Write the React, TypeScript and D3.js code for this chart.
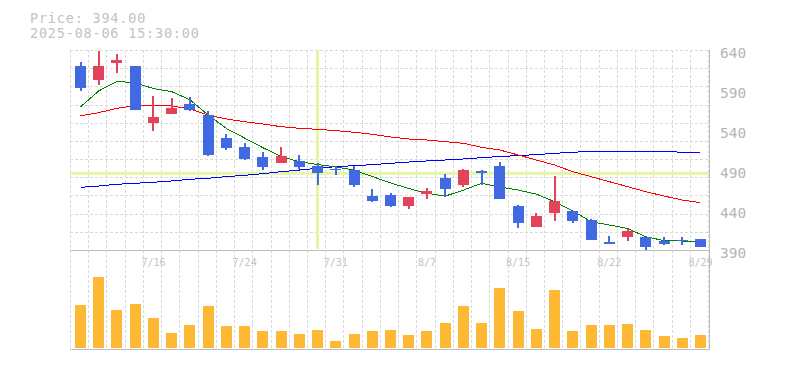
import React from "react";
import * as d3 from "d3";

const dates = ["7/10","7/11","7/14","7/15","7/16","7/17","7/18","7/22","7/23","7/24","7/25","7/28","7/29","7/30","7/31","8/1","8/4","8/5","8/6","8/7","8/8","8/12","8/13","8/14","8/15","8/18","8/19","8/20","8/21","8/22","8/25","8/26","8/27","8/28","8/29"];
const opens  = [624,607,628,624,553,564,577,563,534,523,510,503,505,499,496,494,462,463,449,464,484,476,493,499,449,423,441,443,432,404,410,410,405,407,408];
const highs  = [629,643,639,624,587,584,586,568,539,528,517,523,513,503,499,499,470,466,460,472,489,495,494,504,450,440,487,443,433,412,421,410,411,410,408];
const lows   = [593,600,616,569,543,564,568,512,519,507,494,503,496,475,488,473,454,448,445,458,461,473,476,458,422,423,431,428,407,402,406,393,400,400,398];
const closes = [597,624,632,569,560,572,569,513,522,508,498,512,498,490,494,475,455,449,460,468,470,494,491,458,428,437,455,431,407,402,418,398,402,405,398];
const volumes = [86000,142600,76000,88000,60000,30000,46000,84000,44000,44000,34000,34000,28000,36000,14000,28000,34000,36000,26000,34000,50000,84000,50000,120000,74000,38000,116000,34000,46000,46000,48000,36000,24000,20000,26000];
const ma5  = [573,593,605,603,596,592,582,563,546,534,522,511,504.5,501,498,494,486,478,471,465,461.5,469,477.5,473,469,464,454.5,443,429.5,425.4,421,410.8,405.8,405.4,404.5];
const ma25 = [562,565.8,571.3,574.5,575,574.1,570.4,562.9,557.9,554.5,551.6,548.3,546.3,545,543.3,541.3,538.8,535.4,532.9,531.6,529.5,527.5,522.5,519.1,512.9,506.6,500.4,492,485.8,479.5,473.3,467,461.6,456.6,453.3];
const ma75 = [472.5,474.1,476.3,477.5,478.8,480.4,482.5,483.8,485.8,487.5,489.5,492,494.1,496.3,498.3,499.5,500.8,502.5,504.1,505.4,506.6,507.9,509.5,511,512.1,513.4,515,516.3,517.5,517.5,517.5,517.5,517.5,516.3,516.3];
const priceTicks = [390, 440, 490, 540, 590, 640];
const tickDates = ["7/16","7/24","7/31","8/7","8/15","8/22","8/29"];
const crossDate = "7/30";
const crossPrice = 490;
const headerLines = ["Price: 394.00", "2025-08-06 15:30:00"];

const W = 785, H = 370;
const L = 70, R = 710, T = 50, PB = 250, VB = 350;
const UP = "#e2435b", DOWN = "#4169e1";
const GRID = "#d9d9d9", BORDER = "#bdbdbd";
const MONO = "'DejaVu Sans Mono', 'Liberation Mono', monospace";

export default function App() {
  const x = d3.scaleBand<string>().domain(dates).range([71.4, 709.6]).padding(0);
  const step = x.step();
  const cx = (d: string) => (x(d) as number) + step / 2;
  const y = d3.scaleLinear().domain([390, 640]).range([253.3, 53.3]);
  const yv = d3.scaleLinear().domain([0, 200000]).range([348, 248]);
  const bw = 11;

  const gridXs = d3.range(36).map((k) => Math.round(70 + k * 18.23) + 0.5);
  const gridYs = d3.range(11).map((k) => Math.round(T + (k * (PB - T)) / 11) + 0.5);

  const line = (vals: number[]) =>
    d3.line<number>().x((_, i) => cx(dates[i])).y((v) => y(v))(vals) as string;

  return (
    <svg width={W} height={H} style={{ position: "absolute", left: 0, top: 0, background: "#fff" }}>
      {headerLines.map((t, i) => (
        <text key={t} x={30} y={23 + i * 15} fontFamily={MONO} fontSize={13.5} letterSpacing={0.8} fill="#c3c3c3">{t}</text>
      ))}
      {/* grid */}
      <g stroke={GRID} strokeWidth={1} strokeDasharray="3,2" shapeRendering="crispEdges">
        {gridYs.map((gy) => <line key={"h" + gy} x1={L} x2={R} y1={gy} y2={gy} />)}
        {gridXs.map((gx) => <line key={"v" + gx} x1={gx} x2={gx} y1={T} y2={VB} />)}
      </g>
      {/* crosshair */}
      <g fill="#e4f5a4">
        <rect x={cx(crossDate) - 1.5} y={T} width={3} height={PB - T - 1} />
        <rect x={L} y={y(crossPrice) - 1.5} width={R - L} height={3} />
      </g>
      {/* moving averages */}
      <g fill="none" strokeWidth={1} shapeRendering="crispEdges">
        <path d={line(ma75)} stroke="#0000ff" />
        <path d={line(ma25)} stroke="#ff0000" />
        <path d={line(ma5)} stroke="#008000" />
      </g>
      {/* candles */}
      <g shapeRendering="crispEdges">
        {dates.map((d, i) => {
          const o = opens[i], c = closes[i], h = highs[i], l = lows[i];
          const col = c >= o ? UP : DOWN;
          const c0 = cx(d);
          const top = y(Math.max(o, c));
          const bh = Math.max(1.5, Math.abs(y(o) - y(c)));
          return (
            <g key={d} fill={col}>
              <rect x={c0 - 1} y={y(h)} width={2} height={Math.max(0, y(l) - y(h))} />
              <rect x={c0 - bw / 2} y={top} width={bw} height={bh} />
            </g>
          );
        })}
      </g>
      {/* volume */}
      <g fill="#fdb834" shapeRendering="crispEdges">
        {dates.map((d, i) => (
          <rect key={d} x={cx(d) - bw / 2} y={yv(volumes[i])} width={bw} height={yv(0) - yv(volumes[i])} />
        ))}
      </g>
      {/* x labels */}
      {tickDates.map((d) => (
        <text key={d} x={cx(d)} y={266} textAnchor="middle" fontFamily={MONO} fontSize={10} fill="#c2c2c2">{d}</text>
      ))}
      {/* borders */}
      <g stroke={BORDER} strokeWidth={1} shapeRendering="crispEdges">
        <line x1={L} x2={R} y1={PB + 0.5} y2={PB + 0.5} />
        <line x1={L} x2={R} y1={VB - 0.5} y2={VB - 0.5} />
        <line x1={R - 0.5} x2={R - 0.5} y1={T} y2={VB} />
      </g>
      {/* y labels */}
      {priceTicks.map((t) => (
        <text key={t} x={720} y={y(t) + 5} fontFamily={MONO} fontSize={14.5} fill="#b4b4b4">{t}</text>
      ))}
    </svg>
  );
}
